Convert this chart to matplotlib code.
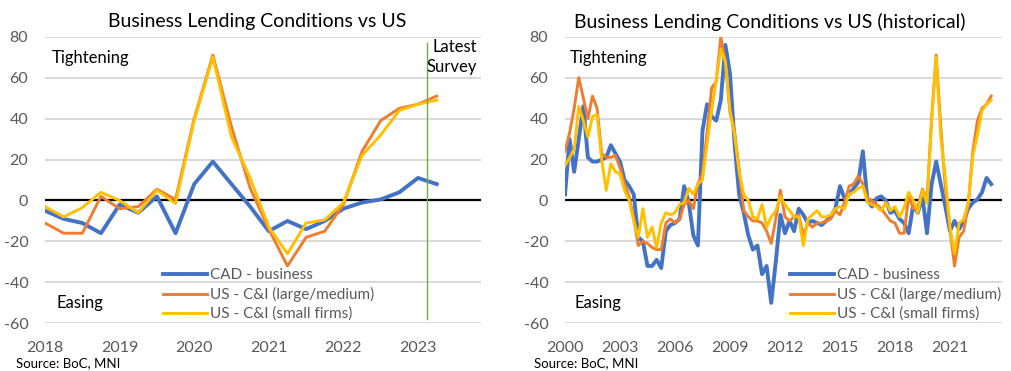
import matplotlib
matplotlib.use("Agg")
import matplotlib.pyplot as plt
import numpy as np

plt.rcParams['font.family'] = ['Lato', 'DejaVu Sans']

# ---------------- data ----------------
series_labels = ["CAD - business", "US - C&I (large/medium)", "US - C&I (small firms)"]
colors = ["#4472C4", "#ED7D31", "#FFC000"]

# Recent chart: quarterly, 2018Q1 .. 2023Q2
recent_start = 2018
cad_recent = [-5, -9, -11, -16, -2, -6, 2, -16, 8, 19, 8, -3, -15, -10, -14, -10, -4, -1, 0.5, 4, 11, 8]
usl_recent = [-11, -16, -16, 2, -4, -3, 5.5, 0.5, 40, 71, 36, 6, -14, -32, -18, -15, -2, 24, 39, 45, 47, 51]
uss_recent = [-3, -8, -3.5, 4, 0, -6, 5, -1.5, 39, 70, 31, 11, -13, -26, -11, -9.5, -1, 22, 32, 44, 47, 49]

# Historical chart: quarterly, 2000Q1 .. 2017Q4 (then continues with recent values)
hist_start = 2000
cad_early = [3, 30, 14, 30, 46, 21, 19, 19, 20, 21,
             27, 23, 19, 10, 7, 3, -18, -20, -32, -32,
             -29, -33, -15, -12, -11, -9, 7, -1, -17, -22,
             34, 47, 41, 39, 49, 76, 62, 28, 3, -6,
             -17, -24, -22, -36, -32, -50, -30, -7, -16, -10,
             -15, -4, -7, -11, -10, -11, -12, -10, -8, -4,
             7, 1, 3, 6, 9, 24, 0, -3, 1, 2,
             0, -6]
usl_early = [24, 33, 45, 60, 50, 40, 51, 45, 23, 21,
             21, 22, 16, 8, 2, -9, -22, -20, -21, -23,
             -24, -24, -11, -9, -11, -9, -2, 0, -4, 8,
             13, 33, 55, 58, 80, 67, 43, 34, 15, -5,
             -8, -10, -10, -11, -15, -21, -9, 5, -8, -10,
             -8, -7, -17, -11, -13, -11, -11, -10, -9, -5,
             -7, -1, 7, 8, 12, 8, 1, 0, -2, -4,
             -7, -10]
uss_early = [17, 21, 25, 46, 39, 31, 41, 42, 20, 5,
             18, 14, 13, 5, 0, -10, -18, -4, -18, -13,
             -23, -11, -6, -7, -6, -2, -1, 6, 3, 8,
             10, 28, 44, 59, 74, 68, 44, 32, 14, 3,
             0, -8, -9, -2, -13, -8, -5, 2, -2, -5,
             -8, -8, -22, -9, -7, -5, -8, -8, -7, -4,
             -3, -4, 3, 4, 6, 7, -1, -2, -3, -5,
             -1, -5]

cad_hist = cad_early + cad_recent
usl_hist = usl_early + usl_recent
uss_hist = uss_early + uss_recent

recent_years = [2018, 2019, 2020, 2021, 2022, 2023]
hist_years = [2000, 2003, 2006, 2009, 2012, 2015, 2018, 2021]
y_ticks = [-60, -40, -20, 0, 20, 40, 60, 80]
latest_survey = 2023.12

# ---------------- layout ----------------
W, H = 1012, 371
fig = plt.figure(figsize=(W / 100, H / 100), dpi=100)

def fx(x):
    return x / W

def fy(y):
    return 1 - y / H

top_px, bot_px = 36.7, 323.3
axL = fig.add_axes([fx(45), fy(bot_px), fx(481 - 45), (bot_px - top_px) / H])
axR = fig.add_axes([fx(565), fy(bot_px), fx(1002 - 565), (bot_px - top_px) / H])

grey = "#595959"

def style(ax, xticks, xlim):
    ax.set_ylim(-60, 80)
    ax.set_xlim(*xlim)
    ax.set_yticks(y_ticks)
    ax.set_yticklabels([str(v) for v in y_ticks])
    ax.set_xticks(xticks)
    ax.set_xticklabels([str(v) for v in xticks])
    for s in ax.spines.values():
        s.set_visible(False)
    ax.tick_params(axis='both', length=0, colors=grey, labelsize=11.5)
    ax.tick_params(axis='y', pad=12)
    ax.tick_params(axis='x', pad=13)
    ax.grid(axis='y', color="#D9D9D9", linewidth=1.4)
    ax.set_axisbelow(True)
    ax.axhline(0, color="black", linewidth=1.6, zorder=2)

def plot_series(ax, start, cad, usl, uss):
    n = len(cad)
    x = start + np.arange(n) / 4.0
    l1, = ax.plot(x, cad, color=colors[0], linewidth=2.8, zorder=3)
    l2, = ax.plot(x, usl, color=colors[1], linewidth=2.1, zorder=4)
    l3, = ax.plot(x, uss, color=colors[2], linewidth=2.1, zorder=5)
    return [l1, l2, l3]

style(axL, recent_years, (2018, 2018 + 436 / 74.6))
style(axR, hist_years, (2000, 2000 + 437 / 18.33))

hL = plot_series(axL, recent_start, cad_recent, usl_recent, uss_recent)
hR = plot_series(axR, hist_start, cad_hist, usl_hist, uss_hist)

axL.plot([latest_survey, latest_survey], [77, -58], color="#70AD47", linewidth=1.0, zorder=6)

# legends
for ax, hs, xpx in [(axL, hL, 163), (axR, hR, 790)]:
    ax.legend(hs, series_labels, loc='upper left', bbox_to_anchor=(fx(xpx), fy(268)),
              bbox_transform=fig.transFigure, frameon=False, fontsize=11,
              handlelength=2.9, handletextpad=0.2, labelspacing=0.32,
              borderpad=0, borderaxespad=0, labelcolor=grey)

# titles and texts
fig.text(fx(257), fy(22), "Business Lending Conditions vs US", ha='center', va='center', fontsize=14)
fig.text(fx(770), fy(22), "Business Lending Conditions vs US (historical)", ha='center', va='center', fontsize=14)
for x0 in (52, 570):
    fig.text(fx(x0), fy(58), "Tightening", ha='left', va='center', fontsize=12)
for x0 in (57, 575):
    fig.text(fx(x0), fy(303), "Easing", ha='left', va='center', fontsize=12)
fig.text(fx(477), fy(47), "Latest", ha='right', va='center', fontsize=12)
fig.text(fx(477), fy(67), "Survey", ha='right', va='center', fontsize=12)
fig.text(fx(16), fy(363), "Source: BoC, MNI", ha='left', va='center', fontsize=9.5)
fig.text(fx(534), fy(363), "Source: BoC, MNI", ha='left', va='center', fontsize=9.5)

fig.savefig("out.png", dpi=100, facecolor="white")
